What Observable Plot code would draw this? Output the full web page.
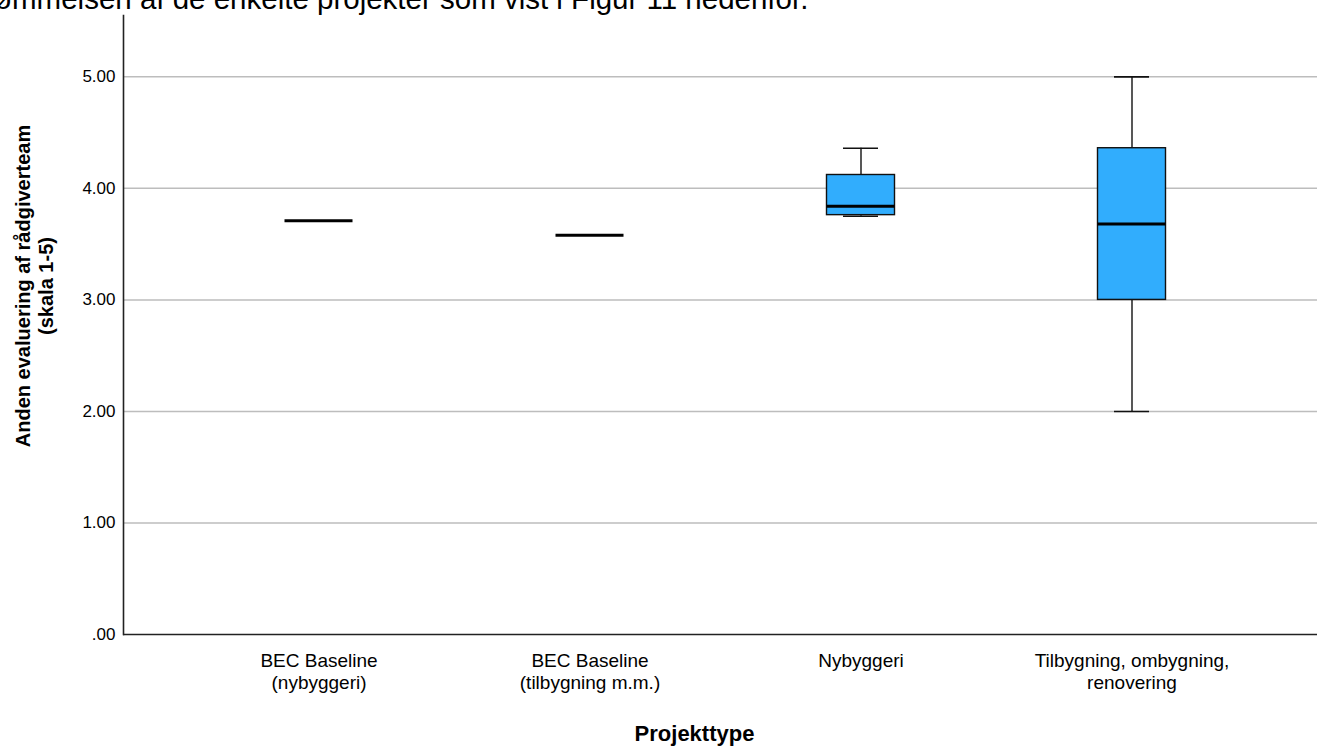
<!DOCTYPE html>
<html>
<head>
<meta charset="utf-8">
<script src="https://cdn.jsdelivr.net/npm/d3@7"></script>
<script src="https://cdn.jsdelivr.net/npm/@observablehq/plot@0.6"></script>
<style>
  body { margin: 0; background: #fff; font-family: "Liberation Sans", Arial, sans-serif; }
  #wrap { position: relative; width: 1317px; height: 749px; overflow: hidden; }
  #lead { position: absolute; left: -6px; top: -16px; font-size: 29.5px; line-height: 29px; white-space: nowrap; color: #000; z-index: 2; }
  #chart { position: absolute; left: 0; top: 0; }
</style>
</head>
<body>
<div id="wrap">
  <div id="lead">ømmelsen af de enkelte projekter som vist i Figur 11 nedenfor.</div>
  <div id="chart"></div>
</div>
<script>
// Project types (x categories)
const projectTypes = [
  "BEC Baseline\n(nybyggeri)",
  "BEC Baseline\n(tilbygning m.m.)",
  "Nybyggeri",
  "Tilbygning, ombygning,\nrenovering"
];

// Box-plot summary per project type
const minValues    = [3.71, 3.58, 3.75, 2.00];
const q1Values     = [3.71, 3.58, 3.76, 3.00];
const medianValues = [3.71, 3.58, 3.84, 3.68];
const q3Values     = [3.71, 3.58, 4.12, 4.36];
const maxValues    = [3.71, 3.58, 4.36, 5.00];

// Y axis ticks and their labels
const yTicks = [0, 1, 2, 3, 4, 5];
const yTickLabels = [".00", "1.00", "2.00", "3.00", "4.00", "5.00"];

const boxes = projectTypes.map((type, i) => ({
  type,
  min: minValues[i],
  q1: q1Values[i],
  median: medianValues[i],
  q3: q3Values[i],
  max: maxValues[i]
}));

const step = 271;   // band width per category
const boxW = 68;    // box width
const capW = 35;    // whisker cap width
const boxInset = (step - boxW) / 2;
const capInset = (step - capW) / 2;

const chart = Plot.plot({
  width: 1317,
  height: 749,
  marginLeft: 123,
  marginRight: 0,
  marginTop: 15,
  marginBottom: 115,
  style: { fontFamily: "'Liberation Sans', Arial, sans-serif", background: "#fff", color: "#000" },
  x: { type: "band", domain: projectTypes, range: [182.5, 1266.5], padding: 0 },
  y: { domain: [0, 5.55] },
  marks: [
    Plot.ruleY(yTicks.filter(d => d > 0), { stroke: "#bdbdbd", strokeWidth: 1.5 }),
    // whiskers
    Plot.ruleX(boxes, { x: "type", y1: "min", y2: "q1", stroke: "#111", strokeWidth: 1.4 }),
    Plot.ruleX(boxes, { x: "type", y1: "q3", y2: "max", stroke: "#111", strokeWidth: 1.4 }),
    Plot.tickY(boxes, { x: "type", y: "min", stroke: "#111", strokeWidth: 1.6, insetLeft: capInset, insetRight: capInset }),
    Plot.tickY(boxes, { x: "type", y: "max", stroke: "#111", strokeWidth: 1.6, insetLeft: capInset, insetRight: capInset }),
    // boxes
    Plot.barY(boxes.filter(d => d.q3 > d.q1), {
      x: "type", y1: "q1", y2: "q3",
      fill: "#31adfd", stroke: "#111", strokeWidth: 1.4,
      insetLeft: boxInset, insetRight: boxInset
    }),
    // medians
    Plot.tickY(boxes, { x: "type", y: "median", stroke: "#000", strokeWidth: 3, insetLeft: boxInset, insetRight: boxInset }),
    // axes
    Plot.axisY(yTicks, {
      tickSize: 0, tickPadding: 8, fontSize: 17, label: null,
      tickFormat: d => yTickLabels[yTicks.indexOf(d)]
    }),
    Plot.axisX({ tickSize: 0, tickPadding: 17, fontSize: 19, lineHeight: 1.15, label: null }),
    Plot.ruleY([0], { stroke: "#222", strokeWidth: 1.6 }),
    Plot.frame({ anchor: "left", stroke: "#222", strokeWidth: 1.6 }),
    // axis titles
    Plot.text(["Anden evaluering af rådgiverteam\n(skala 1-5)"], {
      frameAnchor: "left", rotate: -90, textAnchor: "middle", lineAnchor: "middle",
      dx: -89, dy: -39, fontWeight: "bold", fontSize: 20, lineHeight: 1.15
    }),
    Plot.text(["Projekttype"], {
      frameAnchor: "bottom", textAnchor: "middle", lineAnchor: "middle",
      dx: -26, dy: 99, fontWeight: "bold", fontSize: 22
    })
  ]
});

document.getElementById("chart").append(chart);
</script>
</body>
</html>
